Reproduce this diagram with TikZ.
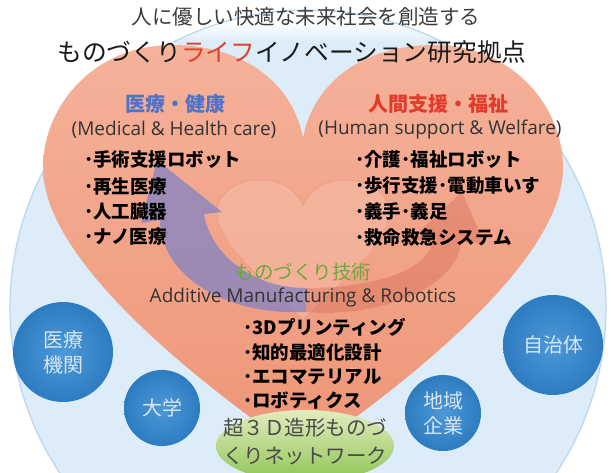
\documentclass[tikz,border=0pt]{standalone}
\usepackage{fontspec}
\newfontfamily\jp{Noto Sans CJK JP}
\newfontfamily\lat{Open Sans}
\usetikzlibrary{shapes.geometric}
\definecolor{cbfill}{HTML}{DCECF8}
\definecolor{cbdraw}{HTML}{B9D6EE}
\definecolor{hearttop}{HTML}{F5B29A}
\definecolor{heartbot}{HTML}{EE9577}
\definecolor{innerfill}{HTML}{F7BDA8}
\definecolor{innerdraw}{HTML}{EC9C82}
\definecolor{bcin}{HTML}{4C98D8}
\definecolor{bcout}{HTML}{2E7CC0}
\definecolor{bctext}{HTML}{D9E6F2}
\definecolor{gtop}{HTML}{E2ECC0}
\definecolor{gbot}{HTML}{8EC553}
\definecolor{gtext}{HTML}{4A4A4A}
\definecolor{tgray}{HTML}{3C3C3C}
\definecolor{tblack}{HTML}{1A1A1A}
\definecolor{tred}{HTML}{E0402A}
\definecolor{medblue}{HTML}{4F73C9}
\definecolor{humred}{HTML}{E33B2B}
\definecolor{mgreen}{HTML}{6AAA3A}
\definecolor{latgray}{HTML}{333333}
\definecolor{larrowc}{HTML}{7A80C8}
\definecolor{rarrowc}{HTML}{D0604E}
\pgfdeclareverticalshading{bigcirc}{100bp}{color(0bp)=(cbfill); color(72.3bp)=(cbfill); color(74bp)=(white); color(100bp)=(white)}
\tikzset{
  ttlone/.style={font=\jp\fontsize{20.5}{24}\selectfont, text=tgray, inner sep=0pt},
  ttltwo/.style={font=\jp\fontsize{24.7}{28}\selectfont, text=tblack, inner sep=0pt},
  headblue/.style={font=\jp\bfseries\fontsize{20}{24}\selectfont, text=medblue, inner sep=0pt},
  headred/.style={font=\jp\bfseries\fontsize{20}{24}\selectfont, text=humred, inner sep=0pt},
  headgreen/.style={font=\jp\fontsize{19.5}{24}\selectfont, text=mgreen, inner sep=0pt},
  latline/.style={font=\lat\fontsize{19}{22}\selectfont, text=latgray, inner sep=0pt},
  listitem/.style={font=\jp\bfseries\fontsize{18.5}{22}\selectfont, text=black, inner sep=0pt, anchor=west},
  bluedisc/.style={circle, shading=radial, inner color=bcin, outer color=bcout, text=bctext,
    font=\jp\fontsize{20}{25}\selectfont, align=center, inner sep=0pt},
  nettext/.style={font=\jp\fontsize{20.5}{24}\selectfont, text=gtext, inner sep=0pt},
  larrow/.style={fill=larrowc, fill opacity=0.7},
  rarrow/.style={fill=rarrowc, fill opacity=0.35},
}
\begin{document}
\begin{tikzpicture}[x=1pt,y=-1pt]
\useasboundingbox (0,0) rectangle (611,472);
\fill[white] (0,0) rectangle (611,472);
\clip (0,0) rectangle (611,472);
% big light blue circle
\shade[shading=bigcirc] (308,308) circle[radius=298];
\draw[cbdraw, line width=1.2pt] (308,308) circle[radius=298];
% big heart
\shade[top color=hearttop, bottom color=heartbot]
  (303,138) .. controls (292,80) and (240,45) .. (172,45)
  .. controls (95,45) and (43,105) .. (43,168)
  .. controls (43,255) and (180,370) .. (303,455)
  .. controls (426,370) and (563,255) .. (563,168)
  .. controls (563,105) and (511,45) .. (434,45)
  .. controls (366,45) and (314,80) .. (303,138) -- cycle;
% inner heart
\path[fill=innerfill, fill opacity=0.55, draw=innerdraw, line width=0.6pt]
  (303,206) .. controls (295,188) and (280,180) .. (260,180)
  .. controls (235,180) and (217,195) .. (217,213)
  .. controls (217,245) and (270,285) .. (303,320)
  .. controls (336,285) and (389,245) .. (389,213)
  .. controls (389,195) and (371,180) .. (346,180)
  .. controls (326,180) and (311,188) .. (303,206) -- cycle;
% arrows
\path[larrow] (306,312) .. controls (225,316) and (160,275) .. (160,220)
  -- (141,223) -- (157,160) -- (222,212) -- (204,214)
  .. controls (210,252) and (250,288) .. (306,288) -- cycle;
\path[rarrow] (306,312) .. controls (385,318) and (458,285) .. (461,242)
  -- (484,243) -- (462,192) -- (410,240) -- (433,241)
  .. controls (428,270) and (375,288) .. (306,288) -- cycle;
% blue discs
\node[bluedisc, minimum size=100pt] (iryo) at (63,352) {医療\\機関};
\node[bluedisc, minimum size=76pt] (daigaku) at (162,408) {大学};
\node[bluedisc, minimum size=76pt] (chiiki) at (443,413) {地域\\企業};
\node[bluedisc, minimum size=100pt] (jichi) at (553,345) {自治体};
% green ellipse
\node[ellipse, minimum width=178pt, minimum height=72pt, top color=gtop, bottom color=gbot, inner sep=0pt] (net) at (305,446) {};
\node[nettext] (netone) at (305,428) {超３Ｄ造形ものづ};
\node[nettext] (nettwo) at (305,456) {くりネットワーク};
% titles
\node[ttlone] (title1) at (306,17) {人に優しい快適な未来社会を創造する};
\node[ttltwo] (title2) at (292,52) {ものづくり{\color{tred}ライフ}イノベーション研究拠点};
% left block
\node[headblue] (medh) at (175,104) {医療・健康};
\node[latline] (mede) at (174,130) {(Medical \& Health care)};
\node[listitem] (l1) at (84,160) {･手術支援ロボット};
\node[listitem] (l2) at (84,186) {･再生医療};
\node[listitem] (l3) at (84,211) {･人工臓器};
\node[listitem] (l4) at (84,236) {･ナノ医療};
% right block
\node[headred] (humh) at (438,104) {人間支援・福祉};
\node[latline] (hume) at (440,130) {(Human support \& Welfare)};
\node[listitem] (r1) at (355,160) {･介護･福祉ロボット};
\node[listitem] (r2) at (355,186) {･歩行支援･電動車いす};
\node[listitem] (r3) at (355,211) {･義手･義足};
\node[listitem] (r4) at (355,237) {･救命救急システム};
% center block
\node[headgreen] (monoh) at (303,272) {ものづくり技術};
\node[latline] (amr) at (303,298) {Additive Manufacturing \& Robotics};
\node[listitem] (b1) at (243,327) {･3Dプリンティング};
\node[listitem] (b2) at (243,352) {･知的最適化設計};
\node[listitem] (b3) at (243,377) {･エコマテリアル};
\node[listitem] (b4) at (243,401) {･ロボティクス};
\end{tikzpicture}
\end{document}
